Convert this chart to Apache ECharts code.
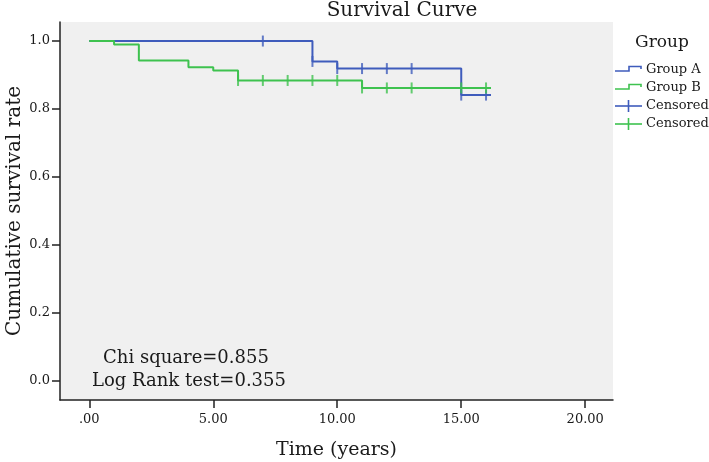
<!DOCTYPE html>
<html>
<head>
<meta charset="utf-8">
<script src="https://cdn.jsdelivr.net/npm/echarts@6/dist/echarts.min.js"></script>
<style>
html,body{margin:0;padding:0;background:#fff;}
#chart{width:709px;height:462px;}
</style>
</head>
<body>
<div id="chart"></div>
<script>
// ---- data ----
const groupATime = [0, 9, 10, 15, 16.2];
const groupASurv = [1.0, 0.940, 0.919, 0.841, 0.841];
const groupBTime = [0, 1, 2, 4, 5, 6, 11, 16.2];
const groupBSurv = [1.0, 0.99, 0.943, 0.923, 0.913, 0.884, 0.862, 0.862];
const censorATime = [7, 9, 10, 11, 12, 13, 15, 16];
const censorASurv = [1.0, 0.940, 0.919, 0.919, 0.919, 0.919, 0.841, 0.841];
const censorBTime = [6, 7, 8, 9, 10, 11, 12, 13, 15, 16];
const censorBSurv = [0.884, 0.884, 0.884, 0.884, 0.884, 0.862, 0.862, 0.862, 0.862, 0.862];
const xTickValues = [0, 5, 10, 15, 20];
const yTickValues = [0, 0.2, 0.4, 0.6, 0.8, 1.0];
const legendLabels = ['Group A', 'Group B', 'Censored', 'Censored'];
const statLines = ['Chi square=0.855', 'Log Rank test=0.355'];

const zip = (a, b) => a.map((v, i) => [v, b[i]]);
const FONT = 'DejaVu Serif';
const TXT = '#1a1a1a';
const BLUE = '#3f5cbc';
const GREEN = '#3ec24f';

const chart = echarts.init(document.getElementById('chart'), null, {renderer: 'canvas'});

const legendY = [70, 88, 106, 124];
const legendColors = [BLUE, GREEN, BLUE, GREEN];
const legendGraphics = [];
legendLabels.forEach((lab, i) => {
  const y = legendY[i];
  if (i < 2) {
    legendGraphics.push({
      type: 'polyline',
      shape: {points: [[615, y + 1], [629, y + 1], [629, y - 3.5], [641, y - 3.5], [641, y - 1]]},
      style: {stroke: legendColors[i], lineWidth: 1.6, fill: null}
    });
  } else {
    legendGraphics.push({
      type: 'line', shape: {x1: 615, y1: y, x2: 642, y2: y},
      style: {stroke: legendColors[i], lineWidth: 1.6}
    });
    legendGraphics.push({
      type: 'line', shape: {x1: 628.5, y1: y - 6, x2: 628.5, y2: y + 6},
      style: {stroke: legendColors[i], lineWidth: 1.6}
    });
  }
  legendGraphics.push({
    type: 'text', x: 646, y: y,
    style: {text: lab, font: '13px "' + FONT + '"', fill: TXT, textAlign: 'left', textVerticalAlign: 'middle'}
  });
});

const option = {
  backgroundColor: '#ffffff',
  animation: false,
  grid: {
    left: 60, right: 96, top: 22, bottom: 62,
    containLabel: false, outerBoundsMode: 'none',
    show: true, backgroundColor: '#f0f0f0', borderWidth: 0
  },
  xAxis: {
    type: 'value', min: -1.18, max: 21.12,
    name: 'Time (years)', nameLocation: 'middle', nameGap: 41, nameMoveOverlap: false,
    nameTextStyle: {fontFamily: FONT, fontSize: 19, color: TXT},
    axisLine: {show: true, onZero: false, lineStyle: {color: '#222', width: 1.5}},
    axisTick: {show: true, length: 8, inside: false, customValues: xTickValues, lineStyle: {color: '#222', width: 1.5}},
    axisLabel: {
      customValues: xTickValues, margin: 13,
      fontFamily: FONT, fontSize: 13, color: TXT,
      formatter: v => (v === 0 ? '.00' : v.toFixed(2))
    },
    splitLine: {show: false}
  },
  yAxis: {
    type: 'value', min: -0.056, max: 1.056,
    name: 'Cumulative survival rate', nameLocation: 'middle', nameGap: 35, nameRotate: 90, nameMoveOverlap: false,
    nameTextStyle: {fontFamily: FONT, fontSize: 20, color: TXT},
    axisLine: {show: true, onZero: false, lineStyle: {color: '#222', width: 1.5}},
    axisTick: {show: true, length: 8, inside: false, customValues: yTickValues, lineStyle: {color: '#222', width: 1.5}},
    axisLabel: {
      customValues: yTickValues, margin: 10,
      fontFamily: FONT, fontSize: 13, color: TXT,
      formatter: v => v.toFixed(1)
    },
    splitLine: {show: false}
  },
  series: [
    {
      name: 'Group A', type: 'line', step: 'end', data: zip(groupATime, groupASurv),
      showSymbol: false, lineStyle: {color: BLUE, width: 2}, z: 2
    },
    {
      name: 'Group B', type: 'line', step: 'end', data: zip(groupBTime, groupBSurv),
      showSymbol: false, lineStyle: {color: GREEN, width: 2}, z: 3
    },
    {
      name: 'Censored A', type: 'scatter', data: zip(censorATime, censorASurv),
      symbol: 'rect', symbolSize: [2, 11], itemStyle: {color: BLUE}, z: 4
    },
    {
      name: 'Censored B', type: 'scatter', data: zip(censorBTime, censorBSurv),
      symbol: 'rect', symbolSize: [2, 11], itemStyle: {color: GREEN}, z: 5
    }
  ],
  graphic: [
    {
      type: 'text', x: 402, y: 11,
      style: {text: 'Survival Curve', font: '20px "' + FONT + '"', fill: TXT, textAlign: 'center', textVerticalAlign: 'middle'}
    },
    {
      type: 'text', x: 186, y: 358,
      style: {text: statLines[0], font: '18px "' + FONT + '"', fill: TXT, textAlign: 'center', textVerticalAlign: 'middle'}
    },
    {
      type: 'text', x: 189, y: 381,
      style: {text: statLines[1], font: '18px "' + FONT + '"', fill: TXT, textAlign: 'center', textVerticalAlign: 'middle'}
    },
    {
      type: 'text', x: 662, y: 43,
      style: {text: 'Group', font: '17px "' + FONT + '"', fill: TXT, textAlign: 'center', textVerticalAlign: 'middle'}
    }
  ].concat(legendGraphics)
};
chart.setOption(option);
</script>
</body>
</html>
